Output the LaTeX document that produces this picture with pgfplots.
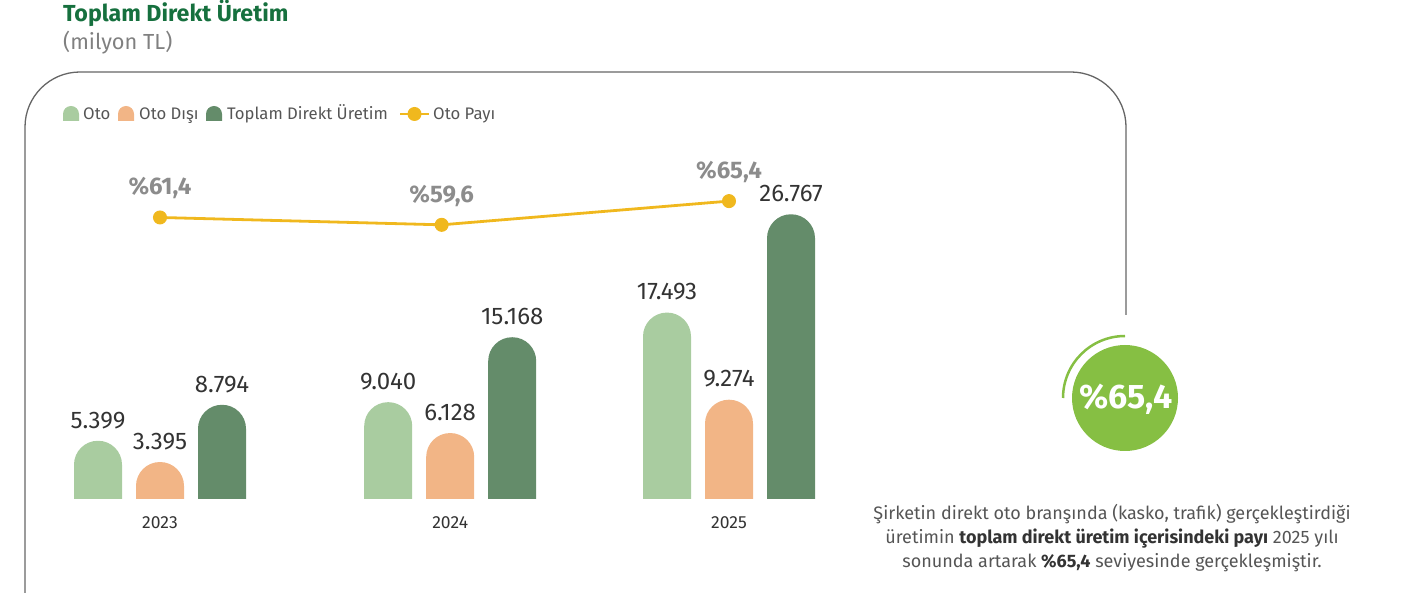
\documentclass[border=0pt]{standalone}
\usepackage{fontspec}
\setmainfont{Fira Sans}
\usepackage{pgfplots}
\usepackage{pgfplotstable}
\pgfplotsset{compat=1.18}
\definecolor{otoc}{HTML}{A9CCA0}
\definecolor{disic}{HTML}{F2B586}
\definecolor{topc}{HTML}{648C6A}
\definecolor{goldc}{HTML}{F0B81E}
\definecolor{titlec}{HTML}{16703E}
\definecolor{framec}{HTML}{666666}
\definecolor{legc}{HTML}{555555}
\definecolor{labc}{HTML}{333333}
\definecolor{ptc}{HTML}{8C8C8C}
\definecolor{circc}{HTML}{86BF43}

\pgfplotstableread{
x v lab
0 5.399 5.399
1.02 9.040 9.040
2 17.493 17.493
}\oto
\pgfplotstableread{
x v lab
0 3.395 3.395
1.02 6.128 6.128
2 9.274 9.274
}\disi
\pgfplotstableread{
x v lab
0 8.794 8.794
1.02 15.168 15.168
2 26.767 26.767
}\toplam
\pgfplotstableread{
x p lab
0 61.4 \%61,4
0.99 59.6 \%59,6
2 65.4 \%65,4
}\pay

\begin{document}
\begin{tikzpicture}
\begin{scope}[x=1pt,y=1pt]
\path[use as bounding box] (0,0) rectangle (1408,592);
% title
\node[anchor=base west, inner sep=0pt, text=titlec, font=\bfseries\fontsize{23.2}{23.2}\selectfont] at (63,570) {Toplam Direkt Üretim};
\node[anchor=base west, inner sep=0pt, text=gray, font=\fontsize{21.8}{21.8}\selectfont] at (63,542) {(milyon TL)};
% frame
\draw[framec, line width=1.3pt, rounded corners=55pt] (25,-5) -- (25,520) -- (1126,520) -- (1126,277);
% legend
\fill[otoc] (63,471) -- (63,478) arc (180:0:8) -- (79,471) -- cycle;
\node[anchor=base west, inner sep=0pt, text=legc, font=\fontsize{16.7}{16.7}\selectfont] at (83,472) {Oto};
\fill[disic] (118,471) -- (118,478) arc (180:0:8) -- (134,471) -- cycle;
\node[anchor=base west, inner sep=0pt, text=legc, font=\fontsize{16.7}{16.7}\selectfont] at (139,472) {Oto Dışı};
\fill[topc] (206,471) -- (206,478) arc (180:0:8) -- (222,471) -- cycle;
\node[anchor=base west, inner sep=0pt, text=legc, font=\fontsize{16.7}{16.7}\selectfont] at (227,472) {Toplam Direkt Üretim};
\draw[goldc, line width=2.5pt] (400,478) -- (429,478);
\fill[goldc] (414.5,478) circle (7);
\node[anchor=base west, inner sep=0pt, text=legc, font=\fontsize{16.7}{16.7}\selectfont] at (433,472) {Oto Payı};
% circle
\draw[circc, line width=2.5pt] (1125,256) arc (90:180:62);
\fill[circc] (1125,194) circle (53);
\node[text=white, font=\bfseries\fontsize{34}{34}\selectfont, inner sep=0pt] at (1126,193) {\%65,4};
% paragraph
\node[align=center, text=legc, inner sep=0pt, font=\fontsize{18}{24}\selectfont] at (1112,54)
{Şirketin direkt oto branşında (kasko, trafik) gerçekleştirdiği\\
üretimin {\color{labc}\bfseries toplam direkt üretim içerisindeki payı} 2025 yılı\\
sonunda artarak {\color{labc}\bfseries \%65,4} seviyesinde gerçekleşmiştir.};
\end{scope}

\begin{axis}[
  at={(17.75pt,62.2pt)}, anchor=south west,
  scale only axis, width=853.5pt, height=379.8pt,
  xmin=-0.5, xmax=2.5, ymin=0, ymax=35.83,
  ybar=14pt, bar width=48pt,
  axis line style={draw=none}, major tick length=0pt,
  ytick=\empty, xtick={0,1.02,2}, xticklabels={2023,2024,2025},
  xticklabel style={font=\fontsize{17.5}{17.5}\selectfont, text=labc, inner sep=0pt, anchor=center, yshift=6.8pt},
  point meta=explicit symbolic,
  nodes near coords,
  every node near coord/.append style={font=\fontsize{24}{24}\selectfont, text=labc, inner sep=0pt, anchor=south, yshift=12pt},
]
\clip (axis cs:-0.5,3) rectangle (axis cs:2.5,35.83);
\addplot[fill=otoc, draw=none, rounded corners=23.9pt] table[x=x, y expr=\thisrow{v}+3, meta=lab] {\oto};
\addplot[fill=disic, draw=none, rounded corners=23.9pt] table[x=x, y expr=\thisrow{v}+3, meta=lab] {\disi};
\addplot[fill=topc, draw=none, rounded corners=23.9pt] table[x=x, y expr=\thisrow{v}+3, meta=lab] {\toplam};
\end{axis}

\begin{axis}[
  at={(17.75pt,94pt)}, anchor=south west,
  scale only axis, width=853.5pt, height=348pt,
  xmin=-0.5, xmax=2.5, ymin=-7.2, ymax=77.9,
  hide axis, clip=false,
  point meta=explicit symbolic,
]
\addplot[color=goldc, line width=2.8pt, mark=*, mark size=6.5pt, mark options={solid, line width=1pt, fill=goldc},
  nodes near coords,
  every node near coord/.append style={font=\bfseries\fontsize{24}{24}\selectfont, text=ptc, inner sep=0pt, anchor=south, yshift=18pt}]
  table[x=x, y=p, meta=lab] {\pay};
\end{axis}
\end{tikzpicture}
\end{document}
